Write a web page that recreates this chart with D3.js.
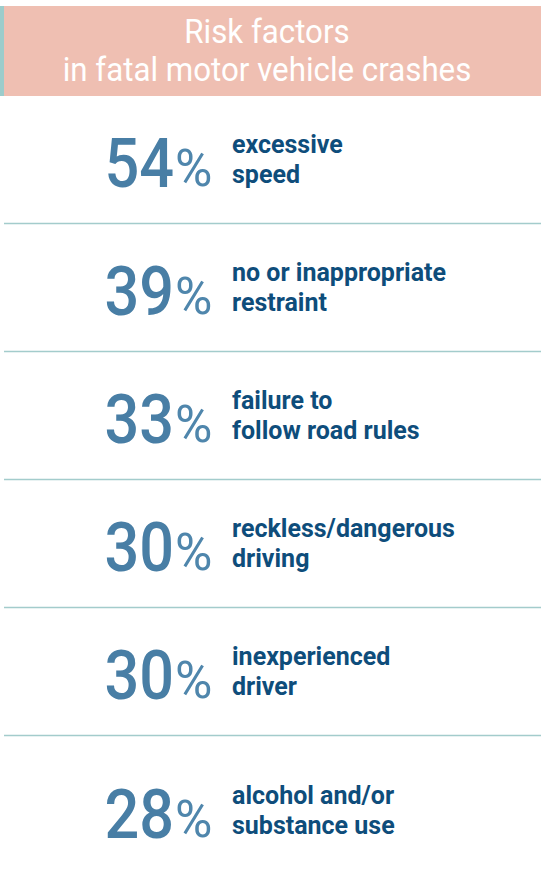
<!DOCTYPE html>
<html>
<head>
<meta charset="utf-8">
<script src="https://cdn.jsdelivr.net/npm/d3@7"></script>
<style>
  html, body { margin: 0; padding: 0; background: #fff; }
  svg { display: block; }
</style>
</head>
<body>
<div id="chart"></div>
<script>
// Risk factors in fatal motor vehicle crashes

const titleLines = ['Risk factors', 'in fatal motor vehicle crashes'];
const values = [54, 39, 33, 30, 30, 28];
const labelTop = ['excessive', 'no or inappropriate', 'failure to', 'reckless/dangerous', 'inexperienced', 'alcohol and/or'];
const labelBottom = ['speed', 'restraint', 'follow road rules', 'driving', 'driver', 'substance use'];

const W = 541, H = 877;
const FONT = 'Roboto, "Noto Sans", sans-serif';

const svg = d3.select('#chart')
  .append('svg')
  .attr('width', W)
  .attr('height', H)
  .attr('viewBox', [0, 0, W, H]);

// squeeze text horizontally to imitate a condensed face
function condense(sel, k) {
  sel.each(function () {
    const len = this.getComputedTextLength();
    d3.select(this)
      .attr('textLength', len * k)
      .attr('lengthAdjust', 'spacingAndGlyphs');
  });
}

// Header band
svg.append('rect')
  .attr('x', 0).attr('y', 6)
  .attr('width', W).attr('height', 90)
  .attr('fill', '#efbfb2');
svg.append('rect')
  .attr('x', 0).attr('y', 6)
  .attr('width', 4).attr('height', 90)
  .attr('fill', '#9ccccb');

svg.append('g')
  .selectAll('text')
  .data(titleLines)
  .enter().append('text')
  .attr('x', 267)
  .attr('y', (d, i) => 43 + i * 38)
  .attr('text-anchor', 'middle')
  .attr('fill', '#fff')
  .attr('font-family', FONT)
  .attr('font-size', 34)
  .text(d => d)
  .call(condense, 0.92);

// Rows
const rows = d3.range(values.length);
const y = d3.scaleBand()
  .domain(rows)
  .range([95, 95 + 128 * rows.length]);

// separators
svg.append('g')
  .selectAll('line')
  .data(rows.slice(1))
  .enter().append('line')
  .attr('x1', 4).attr('x2', W)
  .attr('y1', d => y(d) + 0.5)
  .attr('y2', d => y(d) + 0.5)
  .attr('stroke', '#a3cccc')
  .attr('stroke-width', 1.3);

// last row sits a little lower in the original
const base = i => y(i) + 92 + (i === rows.length - 1 ? 11 : 0);

const row = svg.append('g')
  .selectAll('g')
  .data(rows)
  .enter().append('g');

// big number, squeezed a little
row.append('g')
  .attr('transform', i => `translate(174,${base(i)}) scale(0.9,1)`)
  .append('text')
  .attr('text-anchor', 'end')
  .attr('fill', '#487ea5')
  .attr('font-family', FONT)
  .attr('font-size', 68)
  .attr('font-weight', 500)
  .text(i => values[i]);

row.append('text')
  .attr('x', 175)
  .attr('y', i => base(i) - 1)
  .attr('fill', '#4f86ac')
  .attr('font-family', FONT)
  .attr('font-size', 51)
  .attr('font-weight', 400)
  .text('%');

row.append('text')
  .attr('x', 232)
  .attr('y', i => base(i) - 34)
  .attr('fill', '#0e4d7b')
  .attr('font-family', FONT)
  .attr('font-size', 25)
  .attr('font-weight', 700)
  .text(i => labelTop[i]);

row.append('text')
  .attr('x', 232)
  .attr('y', i => base(i) - 4)
  .attr('fill', '#0e4d7b')
  .attr('font-family', FONT)
  .attr('font-size', 25)
  .attr('font-weight', 700)
  .text(i => labelBottom[i]);
</script>
</body>
</html>
